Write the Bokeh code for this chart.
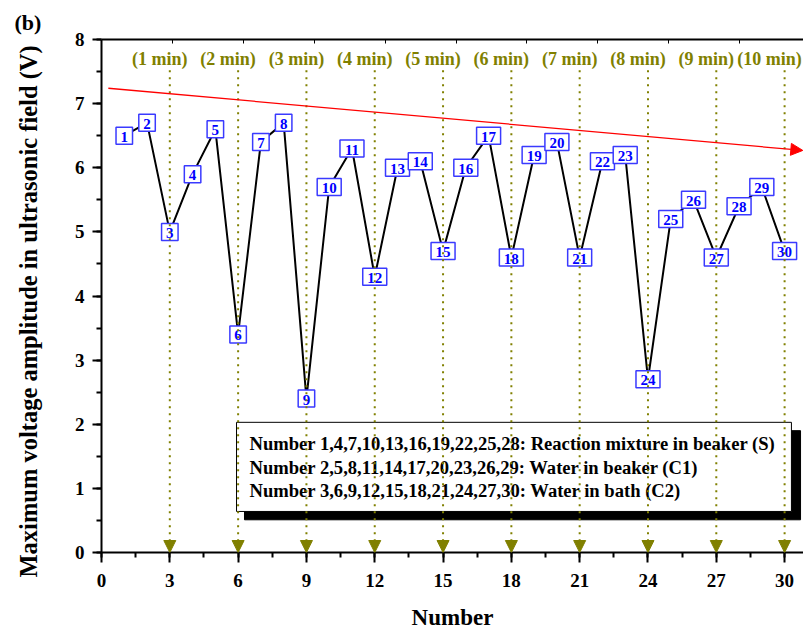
import math
from bokeh.plotting import figure
from bokeh.models import (ColumnDataSource, LinearAxis, Range1d, SingleIntervalTicker,
                          FixedTicker, Arrow, NormalHead, Title)
from bokeh.core.properties import value
from bokeh.embed import file_html
from bokeh.resources import INLINE

# ---------------- data ----------------
numbers = list(range(1, 31))
voltage = [6.5, 6.7, 5.0, 5.9, 6.6, 3.4, 6.4, 6.7, 2.4, 5.7,
           6.3, 4.3, 6.0, 6.1, 4.7, 6.0, 6.5, 4.6, 6.2, 6.4,
           4.6, 6.1, 6.2, 2.7, 5.2, 5.5, 4.6, 5.4, 5.7, 4.7]
minute_marks = [3, 6, 9, 12, 15, 18, 21, 24, 27, 30]
minute_labels = ["(1 min)", "(2 min)", "(3 min)", "(4 min)", "(5 min)",
                 "(6 min)", "(7 min)", "(8 min)", "(9 min)", "(10 min)"]
trend_x = [0.3, 30.8]
trend_y = [7.24, 6.27]
legend_lines = [
    "Number 1,4,7,10,13,16,19,22,25,28: Reaction mixture in beaker (S)",
    "Number 2,5,8,11,14,17,20,23,26,29: Water in beaker (C1)",
    "Number 3,6,9,12,15,18,21,24,27,30: Water in bath (C2)",
]

FONT = "Liberation Serif"
OLIVE = "#808000"

p = figure(width=803, height=632, output_backend="svg", toolbar_location=None,
           x_range=Range1d(0, 30.83), y_range=Range1d(0, 8),
           min_border_left=101, min_border_right=0, min_border_top=39,
           min_border_bottom=80)
p.xgrid.visible = False
p.ygrid.visible = False
p.outline_line_color = None
p.background_fill_color = "white"

# axes styling
for ax in (p.xaxis[0], p.yaxis[0]):
    ax.axis_line_width = 2
    ax.major_tick_line_width = 2
    ax.minor_tick_line_width = 2
    ax.major_tick_in = 0
    ax.minor_tick_in = 0
    ax.major_label_text_font = FONT
    ax.major_label_text_font_style = "bold"
    ax.major_label_text_font_size = "19px"
    ax.major_label_text_color = "black"

p.xaxis.ticker = SingleIntervalTicker(interval=3, num_minor_ticks=2)
p.xaxis.major_tick_out = 10
p.xaxis.minor_tick_out = 5
p.xaxis.major_label_standoff = 11
p.xaxis.axis_label = "Number"
p.xaxis.axis_label_text_font = FONT
p.xaxis.axis_label_text_font_style = "bold"
p.xaxis.axis_label_text_font_size = "23px"
p.xaxis.axis_label_text_color = "black"
p.xaxis.axis_label_standoff = 15

p.yaxis.ticker = SingleIntervalTicker(interval=1, num_minor_ticks=2)
p.yaxis.major_tick_out = 9
p.yaxis.minor_tick_out = 5
p.yaxis.major_label_standoff = 8

# top frame axis with small inner ticks
top_ticks = [3, 6, 9, 12, 15, 18, 21, 24, 27]
p.extra_x_ranges = {"top": Range1d(0, 29.7)}
top = LinearAxis(x_range_name="top", ticker=FixedTicker(ticks=top_ticks),
                 major_tick_in=4, major_tick_out=0, minor_tick_in=0, minor_tick_out=0,
                 axis_line_width=2, major_tick_line_width=1,
                 major_label_overrides={t: "" for t in top_ticks})
p.add_layout(top, "above")

# dotted minute markers with arrow heads
mk = ColumnDataSource(dict(x=minute_marks, ys=[7.52] * len(minute_marks),
                           ye=[0.0] * len(minute_marks)))
p.add_layout(Arrow(x_start="x", y_start="ys", x_end="x", y_end="ye", source=mk,
                   line_color=OLIVE, line_width=2, line_dash="2 5",
                   end=NormalHead(size=12, fill_color=OLIVE, line_color=OLIVE, line_width=1)))

# minute labels
ml = ColumnDataSource(dict(x=minute_marks, y=[7.69] * len(minute_marks), t=minute_labels,
                           off=[-10 - 5 * (len(s) > 7) for s in minute_labels]))
p.text(x="x", y="y", text="t", x_offset="off", source=ml,
       text_align="center", text_baseline="middle",
       text_font=value(FONT), text_font_style="bold", text_font_size="18px",
       text_color=OLIVE)

# trend arrow
p.add_layout(Arrow(x_start=trend_x[0], y_start=trend_y[0], x_end=trend_x[1], y_end=trend_y[1],
                   line_color="red", line_width=1.3,
                   end=NormalHead(size=12, fill_color="red", line_color="red", line_width=1)))

# data line
p.line(numbers, voltage, line_color="black", line_width=2)

# labelled boxes
lab = [str(n) for n in numbers]
src = ColumnDataSource(dict(x=numbers, y=voltage, t=lab,
                            w=[9 + 7.5 * len(s) for s in lab]))
p.rect(x="x", y="y", width="w", height=17, width_units="screen", height_units="screen",
       fill_color="white", line_color="#3a3aff", line_width=1.5, source=src)
p.text(x="x", y="y", text="t", source=src, text_align="center", text_baseline="middle",
       text_font=value(FONT), text_font_style="bold", text_font_size="15px",
       text_color="#0000ff", y_offset=1)

# legend box with shadow
p.quad(left=[6.28], right=[30.70], bottom=[0.51], top=[1.90], fill_color="black", line_color="black")
p.quad(left=[5.93], right=[30.30], bottom=[0.64], top=[2.03], fill_color="white",
       line_color="black", line_width=1)
p.text(x=[6.5] * 3, y=[1.70, 1.33, 0.97], text=legend_lines, text_align="left",
       text_baseline="middle", text_font=value(FONT), text_font_style="bold",
       text_font_size="18.6px", text_color="black")

# y axis title and panel tag
p.add_layout(Title(text="Maximum voltage amplitude in ultrasonic field (V)", align="left",
                   offset=-25, text_font=FONT, text_font_style="bold", standoff=0,
                   padding=dict(left=0, right=0, top=0, bottom=30),
                   text_font_size="24.5px", text_color="black"), "left")
p.add_layout(Title(text="(b)", align="left", offset=-87, text_font=FONT,
                   text_font_style="bold", text_font_size="22px", text_color="black"), "above")

open("out.html", "w").write(file_html(p, INLINE))
